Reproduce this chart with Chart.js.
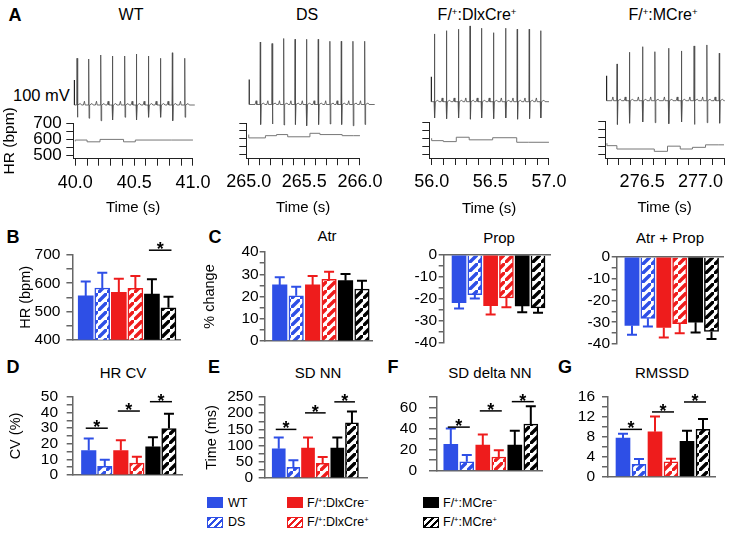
<!DOCTYPE html>
<html>
<head>
<meta charset="utf-8">
<script src="https://cdn.jsdelivr.net/npm/chart.js@4.4.1/dist/chart.umd.min.js"></script>
<style>
  body { margin: 0; background: #fff; width: 730px; height: 533px; position: relative; overflow: hidden;
         font-family: 'Liberation Sans', Arial, Helvetica, sans-serif; color: #000; }
  canvas { position: absolute; }
  .t { position: absolute; transform: translate(-50%, -50%); white-space: nowrap; font-size: 15px; }
  .let { position: absolute; transform: translate(-50%, -50%); font-weight: bold; font-size: 18px; }
  .lg { position: absolute; transform: translateY(-50%); white-space: nowrap; font-size: 12.5px; }
  .sw { position: absolute; width: 16px; height: 11px; box-sizing: border-box; }
  sup { font-size: 0.6em; vertical-align: 0.55em; line-height: 0; }
</style>
</head>
<body>

<div class="let" style="left:15px;top:15px">A</div>
<div class="let" style="left:13px;top:237px">B</div>
<div class="let" style="left:215px;top:237px">C</div>
<div class="let" style="left:13px;top:367px">D</div>
<div class="let" style="left:214px;top:367px">E</div>
<div class="let" style="left:393px;top:367px">F</div>
<div class="let" style="left:565px;top:367px">G</div>

<div class="t" style="left:131px;top:15px;font-size:16px">WT</div>
<div class="t" style="left:307px;top:15px;font-size:16px">DS</div>
<div class="t" style="left:477px;top:15px;font-size:16px">F/<sup>+</sup>:DlxCre<sup>+</sup></div>
<div class="t" style="left:663px;top:15px;font-size:16px">F/<sup>+</sup>:MCre<sup>+</sup></div>
<div style="position:absolute;left:13px;top:95px;transform:translateY(-50%);font-size:16.5px;white-space:nowrap">100 mV</div>

<div class="t" style="left:327px;top:235px">Atr</div>
<div class="t" style="left:499px;top:237px">Prop</div>
<div class="t" style="left:670px;top:237px">Atr + Prop</div>
<div class="t" style="left:123px;top:372px">HR CV</div>
<div class="t" style="left:318px;top:372px">SD NN</div>
<div class="t" style="left:490px;top:372px">SD delta NN</div>
<div class="t" style="left:662px;top:372px">RMSSD</div>

<div class="sw" style="left:207px;top:497px;background:#2e4fe6"></div>
<div class="lg" style="left:228px;top:503px">WT</div>
<div class="sw" style="left:207px;top:517px;border:1.5px solid #2e4fe6;background:repeating-linear-gradient(135deg,#2e4fe6 0 2.5px,#fff 2.5px 5px)"></div>
<div class="lg" style="left:228px;top:522px">DS</div>
<div class="sw" style="left:287px;top:497px;background:#ee1c1c"></div>
<div class="lg" style="left:307px;top:503px">F/<sup>+</sup>:DlxCre<sup>−</sup></div>
<div class="sw" style="left:287px;top:517px;border:1.5px solid #ee1c1c;background:repeating-linear-gradient(135deg,#ee1c1c 0 2.5px,#fff 2.5px 5px)"></div>
<div class="lg" style="left:307px;top:522px">F/<sup>+</sup>:DlxCre<sup>+</sup></div>
<div class="sw" style="left:423px;top:497px;background:#000"></div>
<div class="lg" style="left:443px;top:503px">F/<sup>+</sup>:MCre<sup>−</sup></div>
<div class="sw" style="left:423px;top:517px;border:1.5px solid #000;background:repeating-linear-gradient(135deg,#000 0 2.5px,#fff 2.5px 5px)"></div>
<div class="lg" style="left:443px;top:522px">F/<sup>+</sup>:MCre<sup>+</sup></div>

<script>
const FONT = "'Liberation Sans', Arial, Helvetica, sans-serif";
Chart.defaults.font.family = FONT;
Chart.defaults.color = '#000';
Chart.defaults.animation = false;
Chart.defaults.plugins.legend.display = false;
Chart.defaults.plugins.tooltip.enabled = false;

const BLUE = '#2e4fe6', RED = '#ee1c1c', BLACK = '#000';

// groups, in bar order
const groups = ['WT', 'DS', 'F/+:DlxCre-', 'F/+:DlxCre+', 'F/+:MCre-', 'F/+:MCre+'];
const groupColors = [BLUE, BLUE, RED, RED, BLACK, BLACK];
const groupHatched = [false, true, false, true, false, true];

// ---- panel A: ECG R peaks (s), R and S amplitudes (mV), heart rate steps ----
const wtR = [40.017, 40.116, 40.218, 40.317, 40.421, 40.520, 40.622, 40.724, 40.825, 40.930];
const wtRAmp = [187, 184, 200, 196, 196, 204, 196, 187, 209, 187];
const wtSAmp = [-49, -53, -63, -60, -49, -60, -49, -49, -63, -49];
const wtHrT = [40.0, 40.10, 40.21, 40.41, 40.51, 40.82, 41.0];
const wtHr = [586, 594, 583, 598, 583, 594, 594];

const dsR = [265.092, 265.193, 265.293, 265.391, 265.489, 265.590, 265.690, 265.788, 265.888, 265.989];
const dsRAmp = [250, 244, 264, 261, 261, 261, 253, 253, 253, 253];
const dsSAmp = [-80, -78, -82, -80, -85, -80, -78, -80, -85, -80];
const dsHrT = [265.0, 265.15, 265.25, 265.35, 265.55, 265.64, 265.84, 265.94, 266.0];
const dsHr = [627, 606, 620, 627, 613, 635, 627, 620, 620];

const dlxR = [56.026, 56.128, 56.230, 56.329, 56.426, 56.528, 56.631, 56.730, 56.832, 56.929];
const dlxRAmp = [271, 284, 290, 303, 294, 276, 294, 290, 290, 284];
const dlxSAmp = [-65, -68, -65, -70, -65, -68, -65, -70, -68, -65];
const dlxHrT = [56.0, 56.10, 56.21, 56.32, 56.52, 56.725, 56.824, 57.0];
const dlxHr = [600, 585, 579, 606, 590, 603, 575, 575];

const mcR = [276.289, 276.395, 276.508, 276.614, 276.732, 276.842, 276.951, 277.061, 277.168];
const mcRAmp = [147, 194, 216, 196, 210, 199, 219, 223, 190];
const mcSAmp = [-95, -90, -85, -88, -92, -85, -95, -88, -90];
const mcHrT = [276.199, 276.284, 276.604, 276.717, 276.826, 276.93, 277.042, 277.155, 277.21];
const mcHr = [567, 552, 532, 518, 549, 532, 542, 557, 557];

// ---- panels B-G: mean and SEM per group ----
const hrB = [555, 583, 568, 582, 562, 513];
const hrBErr = [51, 54, 48, 44, 52, 39];
const atr = [25.2, 20.3, 25.2, 27.7, 27.1, 23.3];
const atrErr = [3.4, 4.1, 4.0, 3.4, 3.0, 3.8];
const prop = [-21.7, -18.0, -23.0, -19.5, -23.2, -24.0];
const propErr = [2.6, 1.8, 4.0, 4.2, 2.8, 2.2];
const atrProp = [-31.5, -28.2, -32.4, -30.7, -30.0, -34.2];
const atrPropErr = [4.3, 3.8, 4.6, 4.3, 4.7, 3.5];
const hrCv = [15.7, 5.6, 15.7, 7.7, 18.1, 29.8];
const hrCvErr = [7.7, 4.1, 6.5, 4.0, 6.1, 9.5];
const sdnn = [90, 33, 92, 45, 92, 170];
const sdnnErr = [35, 22, 33, 20, 33, 35];
const sdDelta = [25, 8.5, 24.3, 13, 24.3, 44.3];
const sdDeltaErr = [15, 6.5, 10, 6.4, 13.7, 17];
const rmssd = [7.74, 2.5, 9.0, 2.97, 7.1, 9.5];
const rmssdErr = [0.86, 1.05, 3.1, 0.63, 2.1, 2.1];

// significance bars: [group a, group b, height]
const sigB = [[4, 5, 717]];
const sigCv = [[0, 1, 30], [2, 3, 41], [4, 5, 47]];
const sigSdnn = [[0, 1, 150], [2, 3, 201], [4, 5, 235]];
const sigDelta = [[0, 1, 41.4], [2, 3, 56.8], [4, 5, 65.6]];
const sigRmssd = [[0, 1, 9.5], [2, 3, 13], [4, 5, 15]];

function addCanvas(left, top, w, h) {
  const c = document.createElement('canvas');
  c.width = Math.round(w); c.height = Math.round(h);
  c.style.left = left + 'px'; c.style.top = top + 'px';
  document.body.appendChild(c);
  return c;
}

function hatch(color) {
  const n = 9;
  const c = document.createElement('canvas');
  c.width = c.height = n;
  const g = c.getContext('2d');
  g.fillStyle = '#fff'; g.fillRect(0, 0, n, n);
  g.strokeStyle = color; g.lineWidth = 3.4;
  g.beginPath();
  g.moveTo(-2, n + 2); g.lineTo(n + 2, -2);
  g.moveTo(-n - 2, 2); g.lineTo(2, -n - 2);
  g.moveTo(n - 2, 2 * n + 2); g.lineTo(2 * n + 2, n - 2);
  g.stroke();
  return g.createPattern(c, 'repeat');
}
const fills = groupColors.map((c, i) => groupHatched[i] ? hatch(c) : c);

const errorBars = {
  id: 'errorBars',
  afterDatasetsDraw(chart) {
    const ctx = chart.ctx, ys = chart.scales.y;
    chart.data.datasets.forEach((ds, di) => {
      if (!ds.errors) return;
      chart.getDatasetMeta(di).data.forEach((bar, i) => {
        const v = ds.data[i].y, e = ds.errors[i], s = v < 0 ? -1 : 1;
        const y0 = ys.getPixelForValue(v), y1 = ys.getPixelForValue(v + s * e);
        ctx.save();
        ctx.strokeStyle = groupColors[i]; ctx.lineWidth = 2;
        ctx.beginPath();
        ctx.moveTo(bar.x, y0); ctx.lineTo(bar.x, y1);
        ctx.moveTo(bar.x - 5, y1); ctx.lineTo(bar.x + 5, y1);
        ctx.stroke();
        ctx.restore();
      });
    });
  }
};

const sigMarks = {
  id: 'sigMarks',
  afterDatasetsDraw(chart) {
    const ds = chart.data.datasets[0];
    if (!ds.sig) return;
    const ctx = chart.ctx, xs = chart.scales.x, ys = chart.scales.y;
    ds.sig.forEach(([a, b, v]) => {
      const xa = xs.getPixelForValue(a) - 3, xb = xs.getPixelForValue(b) + 3, y = ys.getPixelForValue(v);
      ctx.save();
      ctx.strokeStyle = '#000'; ctx.lineWidth = 1.5;
      ctx.beginPath(); ctx.moveTo(xa, y); ctx.lineTo(xb, y); ctx.stroke();
      ctx.fillStyle = '#000'; ctx.font = 'bold 18px ' + FONT;
      ctx.textAlign = 'center'; ctx.textBaseline = 'alphabetic';
      ctx.fillText('*', (xa + xb) / 2, y + 5);
      ctx.restore();
    });
  }
};

const AX = '#666';

function barPanel(p) {
  const PT = 34, PR = 6, PB = 10, XH = 3;
  const tsize = 14.5;
  const left = p.yTitle ? p.titleCx - tsize * 1.2 / 2 : p.labelRight - 40;
  const yw = p.x0 - left;
  const w = yw + (p.x1 - p.x0) + PR;
  const h = PT + (p.yBot - p.yTop) + XH + PB;
  const top = p.xTop ? p.yTop - PT - XH : p.yTop - PT;
  const cv = addCanvas(left, top, w, h);
  new Chart(cv, {
    type: 'bar',
    data: {
      datasets: [{
        data: p.vals.map((v, i) => ({x: i, y: v})),
        backgroundColor: fills,
        borderColor: groupColors,
        borderWidth: groupHatched.map(hh => hh ? 1.5 : 0),
        barThickness: p.bw,
        errors: p.errs,
        sig: p.sig
      }]
    },
    options: {
      responsive: false,
      layout: {padding: {top: PT, right: PR, bottom: PB, left: 0}},
      scales: {
        x: {
          type: 'linear', position: p.xTop ? 'top' : 'bottom',
          min: (p.x0 - p.first) / p.pitch, max: (p.x1 - p.first) / p.pitch,
          offset: false,
          grid: {display: false},
          ticks: {display: false},
          border: {color: AX, width: 1.5},
          afterFit: s => { s.height = XH; }
        },
        y: {
          min: p.min, max: p.max,
          grid: {drawOnChartArea: false, tickLength: p.tick, color: AX, lineWidth: 1.5},
          border: {color: AX, width: 1.5},
          ticks: {
            stepSize: p.step, autoSkip: false, includeBounds: false,
            padding: p.x0 - p.tick - p.labelRight,
            font: {size: 15.5}, color: '#000',
            callback: v => (v % p.major === 0 ? v : '')
          },
          title: p.yTitle ? {display: true, text: p.yTitle, padding: 0, font: {size: tsize}, color: '#000'} : {display: false},
          afterFit: s => { s.width = yw; }
        }
      }
    },
    plugins: [errorBars, sigMarks]
  });
}

barPanel({vals: hrB, errs: hrBErr, sig: sigB, x0: 72.7, x1: 180, yTop: 255, yBot: 341.7, min: 400, max: 700,
  step: 50, major: 100, first: 86, pitch: 16.5, bw: 15, labelRight: 60.7, tick: 6, yTitle: 'HR (bpm)', titleCx: 26});
barPanel({vals: atr, errs: atrErr, x0: 265, x1: 372, yTop: 252.3, yBot: 341.7, min: 0, max: 40,
  step: 5, major: 10, first: 280, pitch: 16.4, bw: 14.5, labelRight: 259, tick: 5, yTitle: '% change', titleCx: 210});
barPanel({vals: prop, errs: propErr, x0: 444, x1: 550, yTop: 255, yBot: 344, min: -40, max: 0,
  step: 5, major: 10, first: 459.3, pitch: 15.75, bw: 14, labelRight: 437.3, tick: 5, xTop: true});
barPanel({vals: atrProp, errs: atrPropErr, x0: 616.7, x1: 723, yTop: 256.7, yBot: 344.3, min: -40, max: 0,
  step: 5, major: 10, first: 632, pitch: 15.9, bw: 14.2, labelRight: 610, tick: 5, xTop: true});
barPanel({vals: hrCv, errs: hrCvErr, sig: sigCv, x0: 73, x1: 182, yTop: 396.7, yBot: 479.3, min: 0, max: 50,
  step: 5, major: 10, first: 89, pitch: 16, bw: 14.5, labelRight: 58.3, tick: 6, yTitle: 'CV (%)', titleCx: 16});
barPanel({vals: sdnn, errs: sdnnErr, sig: sigSdnn, x0: 265, x1: 367, yTop: 396.7, yBot: 480, min: 0, max: 250,
  step: 25, major: 50, first: 279, pitch: 14.6, bw: 13, labelRight: 253.3, tick: 6, yTitle: 'Time (ms)', titleCx: 212});
barPanel({vals: sdDelta, errs: sdDeltaErr, sig: sigDelta, x0: 436.7, x1: 541.7, yTop: 396.7, yBot: 478.3, min: 0, max: 70,
  step: 10, major: 20, first: 450.5, pitch: 16, bw: 14, labelRight: 416.7, tick: 8});
barPanel({vals: rmssd, errs: rmssdErr, sig: sigRmssd, x0: 608, x1: 715, yTop: 396.7, yBot: 479.3, min: 0, max: 16,
  step: 2, major: 4, first: 623, pitch: 16, bw: 14, labelRight: 595, tick: 6});

// ---- panel A ----
function ecgTrace(start, end, rT, rA, sA) {
  const pts = [{x: start, y: 0}];
  rT.forEach((t, i) => {
    pts.push({x: t - 0.045, y: 0}, {x: t - 0.036, y: 15}, {x: t - 0.03, y: 0},
             {x: t - 0.003, y: 0}, {x: t, y: rA[i]}, {x: t + 0.003, y: sA[i]},
             {x: t + 0.008, y: 0}, {x: t + 0.028, y: 6}, {x: t + 0.038, y: 0});
  });
  pts.push({x: end, y: 0});
  return pts.filter(q => q.x >= start && q.x <= end);
}

function ecgPanel(p) {
  const pps = (p.x1 - p.x0) / (p.tmax - p.tmin);
  const eTop = 20, eBot = 135, eL = p.x0 - 8, eR = p.x1 + 12;
  const ecg = addCanvas(eL, eTop, eR - eL, eBot - eTop);
  new Chart(ecg, {
    type: 'line',
    data: {datasets: [
      {data: ecgTrace(p.start, p.end, p.rT, p.rA, p.sA), borderColor: '#4a4a4a', borderWidth: 0.8, pointRadius: 0},
      {data: [{x: p.start, y: 0}, {x: p.start, y: 100}], borderColor: '#222', borderWidth: 1.2, pointRadius: 0}
    ]},
    options: {
      responsive: false,
      layout: {padding: 0},
      scales: {
        x: {type: 'linear', display: false, min: p.tmin - (p.x0 - eL) / pps, max: p.tmax + (eR - p.x1) / pps},
        y: {display: false, min: -(eBot - p.base) * 4, max: (p.base - eTop) * 4}
      }
    }
  });
}

function hrPanel(p) {
  const YW = 73.3, PT = 22, PR = 24;
  const XH = 217.3 - p.yBot;
  const left = p.x0 - YW;
  const hr = addCanvas(left, p.yTop - PT, YW + (p.x1 - p.x0) + PR, PT + (p.yBot - p.yTop) + XH);
  const showY = p.labels === true;
  new Chart(hr, {
    type: 'line',
    data: {datasets: [{
      data: p.hrT.map((t, i) => ({x: t, y: p.hr[i]})),
      stepped: 'after', borderColor: '#777', borderWidth: 1, pointRadius: 0
    }]},
    options: {
      responsive: false,
      layout: {padding: {top: PT, right: PR, left: 0, bottom: 0}},
      scales: {
        x: {
          type: 'linear', min: p.tmin, max: p.tmax,
          grid: {drawOnChartArea: false, tickLength: 7, color: '#222'},
          border: {color: '#222', width: 1},
          ticks: {
            stepSize: 0.1, autoSkip: false, includeBounds: false, maxRotation: 0, minRotation: 0,
            padding: 6.5, font: {size: 18}, color: '#000',
            callback: v => (Math.round(v * 10) % 5 === 0 ? v.toFixed(1) : '')
          },
          title: {display: true, text: 'Time (s)', padding: 0, font: {size: 15}, color: '#000'},
          afterFit: s => { s.height = XH; }
        },
        y: {
          min: 478, max: 700,
          grid: {drawOnChartArea: false, tickLength: 7, color: '#222'},
          border: {color: '#222', width: 1},
          ticks: {
            stepSize: 50, autoSkip: false, includeBounds: false,
            padding: 4.6, font: {size: 17}, color: '#000',
            callback: v => (showY && v % 100 === 0 ? String(v) : '')
          },
          title: {display: showY, text: 'HR (bpm)', padding: 0, font: {size: 15.5}, color: '#000'},
          afterFit: s => { s.width = YW; }
        }
      }
    }
  });
}

const traces = [
  {labels: true, x0: 73.3, x1: 193.3, tmin: 39.983, tmax: 41.0, yTop: 123, yBot: 159,
   start: 39.995, end: 41.015, base: 105, rT: wtR, rA: wtRAmp, sA: wtSAmp, hrT: wtHrT, hr: wtHr},
  {x0: 246.7, x1: 365.3, tmin: 264.978, tmax: 266.0, yTop: 123, yBot: 158.5,
   start: 264.997, end: 266.075, base: 104.5, rT: dsR, rA: dsRAmp, sA: dsSAmp, hrT: dsHrT, hr: dsHr},
  {x0: 429.3, x1: 549, tmin: 55.98, tmax: 57.0, yTop: 121.5, yBot: 157.3,
   start: 56.0, end: 57.0, base: 101.7, rT: dlxR, rA: dlxRAmp, sA: dlxSAmp, hrT: dlxHrT, hr: dlxHr},
  {x0: 605, x1: 723.3, tmin: 276.185, tmax: 277.2, yTop: 121, yBot: 158.3,
   start: 276.199, end: 277.215, base: 100.7, rT: mcR, rA: mcRAmp, sA: mcSAmp, hrT: mcHrT, hr: mcHr}
];
traces.forEach(hrPanel);
traces.forEach(ecgPanel);
</script>
</body>
</html>
